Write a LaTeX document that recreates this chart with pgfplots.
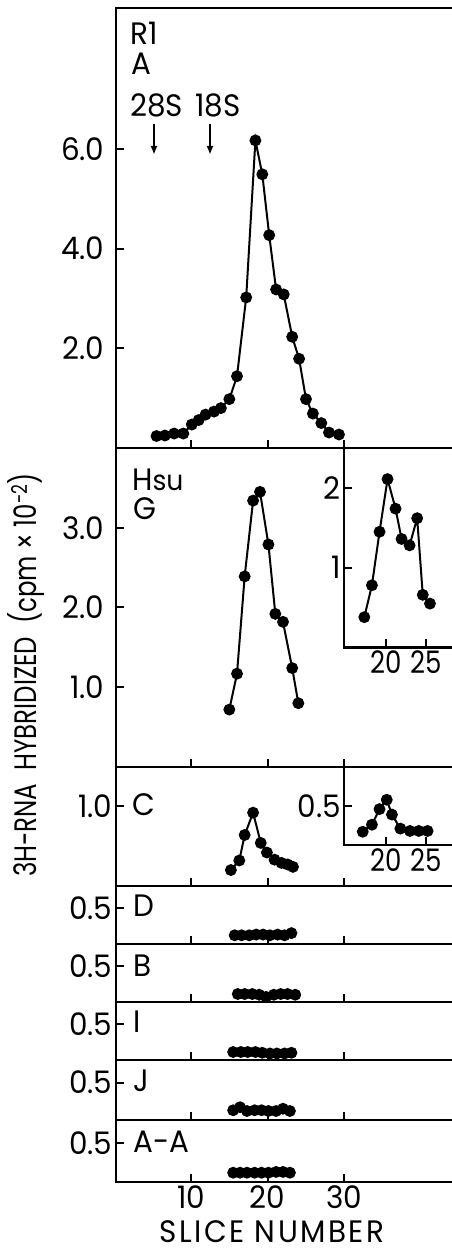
\documentclass[border=0pt]{standalone}
\usepackage{fontspec}
\setmainfont{Poppins}[FakeStretch=0.95]
\newfontfamily\lab{Poppins}[FakeStretch=0.95, LetterSpace=8]
\newfontfamily\ylab{Poppins}[FakeStretch=0.79]
\newfontfamily\narrow{Poppins}[FakeStretch=0.84]
\usepackage{pgfplots}
\pgfplotsset{compat=1.18}
\usetikzlibrary{arrows.meta}
\newcommand\fs{\fontsize{31}{36}\selectfont}
\pgfplotsset{
 base/.style={scale only axis, anchor=south west,
  axis line style={line width=2.2pt},
  tick style={black, line width=2pt}, major tick length=8pt, tick align=inside,
  xtick pos=bottom, ytick pos=left, clip=false,
  tick label style={font=\fs},
  /pgf/number format/assume math mode=true,
  ymin=0},
 main/.style={base, width=342pt, xmin=0.215, xmax=44.83, xtick={10,20,30}, xticklabels={}},
 inset/.style={base, width=113.7pt, xmin=14.8, xmax=29.0, xtick={20,25}, x tick label style={font={\fs\narrow}}},
 dec/.style={y tick label style={/pgf/number format/.cd, fixed, fixed zerofill, precision=1, /tikz/.cd}},
 dat/.style={black, line width=2pt, mark=*, mark size=4.9pt, mark options={solid, fill=black}},
}
\begin{document}
\begin{tikzpicture}[x=1pt,y=1pt]
\path[use as bounding box] (0,0) rectangle (451,1254);
% Panel A (R1)
\begin{axis}[main, dec, at={(116pt,806pt)}, height=440pt, ymax=8.826, ytick={2,4,6}, y tick label style={xshift=-8pt}]
\addplot[dat] coordinates {(5.5,0.24) (6.6,0.25) (7.8,0.29) (9.0,0.29) (10.1,0.47) (11.0,0.56) (11.9,0.67) (13.0,0.73) (13.9,0.80) (15.0,0.98) (16.0,1.44) (17.2,3.02) (18.4,6.17) (19.3,5.49) (20.2,4.27) (21.1,3.18) (22.1,3.08) (23.2,2.23) (24.1,1.79) (25.0,0.98) (25.9,0.69) (27.0,0.50) (28.0,0.31) (29.3,0.27)};
\end{axis}
% Panel G (Hsu)
\begin{axis}[main, dec, at={(116pt,487pt)}, height=319pt, ymax=4.0, ytick={1,2,3}, y tick label style={xshift=-8pt}]
\addplot[dat] coordinates {(15.0,0.72) (16.0,1.17) (17.0,2.39) (18.1,3.34) (19.0,3.45) (20.1,2.79) (21.0,1.92) (22.0,1.82) (23.2,1.24) (24.0,0.80)};
\end{axis}
% Inset G
\begin{axis}[inset, at={(344.3pt,606.5pt)}, height=199.5pt, ymax=2.5, ytick={1,2}]
\addplot[dat] coordinates {(17.3,0.38) (18.25,0.78) (19.2,1.45) (20.2,2.11) (21.2,1.74) (21.95,1.36) (22.95,1.28) (23.9,1.62) (24.6,0.66) (25.5,0.55)};
\end{axis}
% Panel C
\begin{axis}[main, dec, at={(116pt,368pt)}, height=119pt, ymax=1.493, ytick={1}]
\addplot[dat] coordinates {(15.2,0.20) (16.3,0.32) (17.0,0.64) (18.1,0.92) (19.1,0.54) (19.9,0.42) (20.9,0.33) (21.8,0.29) (22.6,0.27) (23.3,0.24)};
\end{axis}
% Inset C
\begin{axis}[inset, dec, at={(344.3pt,409pt)}, height=78pt, ymax=1.0, ytick={0.5}]
\addplot[dat] coordinates {(17.1,0.17) (18.25,0.26) (19.2,0.46) (20.1,0.58) (20.75,0.39) (21.8,0.21) (23.0,0.18) (24.1,0.18) (25.2,0.18)};
\end{axis}
% Panel D
\begin{axis}[main, dec, at={(116pt,310pt)}, height=58pt, ymax=0.8, ytick={0.5}]
\addplot[dat] coordinates {(15.7,0.12) (16.6,0.12) (17.6,0.12) (18.5,0.13) (19.4,0.13) (20.3,0.12) (21.3,0.13) (22.2,0.12) (23.1,0.15)};
\end{axis}
% Panel B
\begin{axis}[main, dec, at={(116pt,252pt)}, height=58pt, ymax=0.8, ytick={0.5}]
\addplot[dat] coordinates {(16.1,0.11) (17.0,0.11) (18.0,0.11) (18.9,0.10) (19.8,0.07) (20.8,0.10) (21.7,0.11) (22.6,0.11) (23.6,0.10)};
\end{axis}
% Panel I
\begin{axis}[main, dec, at={(116pt,194pt)}, height=58pt, ymax=0.8, ytick={0.5}]
\addplot[dat] coordinates {(15.5,0.11) (16.5,0.11) (17.4,0.11) (18.4,0.11) (19.3,0.10) (20.3,0.09) (21.2,0.09) (22.2,0.09) (23.1,0.10)};
\end{axis}
% Panel J
\begin{axis}[main, dec, at={(116pt,134pt)}, height=60pt, ymax=0.8, ytick={0.5}]
\addplot[dat] coordinates {(15.5,0.13) (16.4,0.17) (17.3,0.12) (18.3,0.13) (19.2,0.13) (20.1,0.12) (21.1,0.12) (22.0,0.15) (22.9,0.12)};
\end{axis}
% Panel A-A
\begin{axis}[main, dec, at={(116pt,72pt)}, height=62pt, ymax=0.8, ytick={0.5}, xticklabels={10,20,30}]
\addplot[dat] coordinates {(15.5,0.12) (16.4,0.12) (17.3,0.12) (18.3,0.12) (19.2,0.12) (20.1,0.12) (21.1,0.13) (22.0,0.13) (22.9,0.12)};
\end{axis}
% texts
\node[anchor=base west, font=\fs, inner sep=0] at (130,1209) {R1};
\node[anchor=base west, font=\fs, inner sep=0] at (131,1179) {A};
\node[anchor=base west, font=\fs, inner sep=0] at (130,1137) {28S};
\node[anchor=base west, font=\fs, inner sep=0] at (195,1137) {18S};
\draw[line width=2pt, -{Latex[length=9pt,width=7pt]}] (154,1130) -- (154,1099);
\draw[line width=2pt, -{Latex[length=9pt,width=7pt]}] (210,1130) -- (210,1099);
\node[anchor=base west, font=\fs, inner sep=0] at (132,763) {H{\fontsize{28}{32}\selectfont su}};
\node[anchor=base west, font=\fs, inner sep=0] at (133,734) {G};
\node[anchor=base west, font=\fs, inner sep=0] at (132,438) {C};
\node[anchor=base west, font=\fs, inner sep=0] at (133,337) {D};
\node[anchor=base west, font=\fs, inner sep=0] at (133,277) {B};
\node[anchor=base west, font=\fs, inner sep=0] at (133,221) {I};
\node[anchor=base west, font=\fs, inner sep=0] at (133,162) {J};
\node[anchor=base west, font=\fs, inner sep=0] at (133,101) {A-A};
\node[anchor=base, font={\fs\lab}, inner sep=0] at (272,11) {SLICE NUMBER};
\node[rotate=90, font={\fs\ylab}, inner sep=0] at (26,579) {3H-RNA\ \ HYBRIDIZED\ \ (cpm × 10\textsuperscript{-2})};
\end{tikzpicture}
\end{document}
